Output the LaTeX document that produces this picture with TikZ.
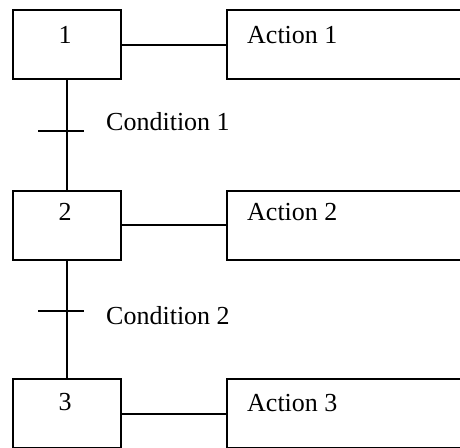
\documentclass[tikz,border=0pt]{standalone}
\usepackage{fontspec}
\setmainfont{Liberation Serif}
\usetikzlibrary{calc}
\begin{document}
\begin{tikzpicture}[x=1pt,y=-1pt,
  stepbox/.style={draw,line width=2pt,minimum width=108pt,minimum height=69pt,inner sep=0pt},
  actbox/.style={draw,line width=2pt,minimum width=250pt,minimum height=69pt,inner sep=0pt},
  lbl/.style={font=\fontsize{26}{30}\selectfont,inner sep=0pt,anchor=base},
  lblw/.style={lbl,anchor=base west},
  link/.style={line width=2pt}]
\useasboundingbox (0,0) rectangle (460,447);
\clip (0,0) rectangle (460,447);
% steps
\node[stepbox] (s1) at (67,44.5) {};
\node[stepbox] (s2) at (67,225) {};
\node[stepbox] (s3) at (67,413.5) {};
% actions
\node[actbox] (a1) at (352,44.5) {};
\node[actbox] (a2) at (352,225) {};
\node[actbox] (a3) at (352,413.5) {};
% labels
\node[lbl] (t1) at ($(s1.north)+(-2,34)$) {1};
\node[lbl] (t2) at ($(s2.north)+(-2,31)$) {2};
\node[lbl] (t3) at ($(s3.north)+(-2,32)$) {3};
\node[lblw] (u1) at ($(a1.north west)+(21,34)$) {Action 1};
\node[lblw] (u2) at ($(a2.north west)+(21,31)$) {Action 2};
\node[lblw] (u3) at ($(a3.north west)+(21,33)$) {Action 3};
% links
\draw[link] (s1) -- (a1);
\draw[link] (s2) -- (a2);
\draw[link] (s3) -- (a3);
\draw[link] (s1) -- (s2);
\draw[link] (s2) -- (s3);
% transitions
\coordinate (c1) at (67,131);
\coordinate (c2) at (67,311);
\draw[link] ([xshift=-29pt]c1) -- ([xshift=17pt]c1);
\draw[link] ([xshift=-29pt]c2) -- ([xshift=17pt]c2);
\node[lblw] (k1) at ($(c1)+(39,-1)$) {Condition 1};
\node[lblw] (k2) at ($(c2)+(39,13)$) {Condition 2};
\end{tikzpicture}
\end{document}
